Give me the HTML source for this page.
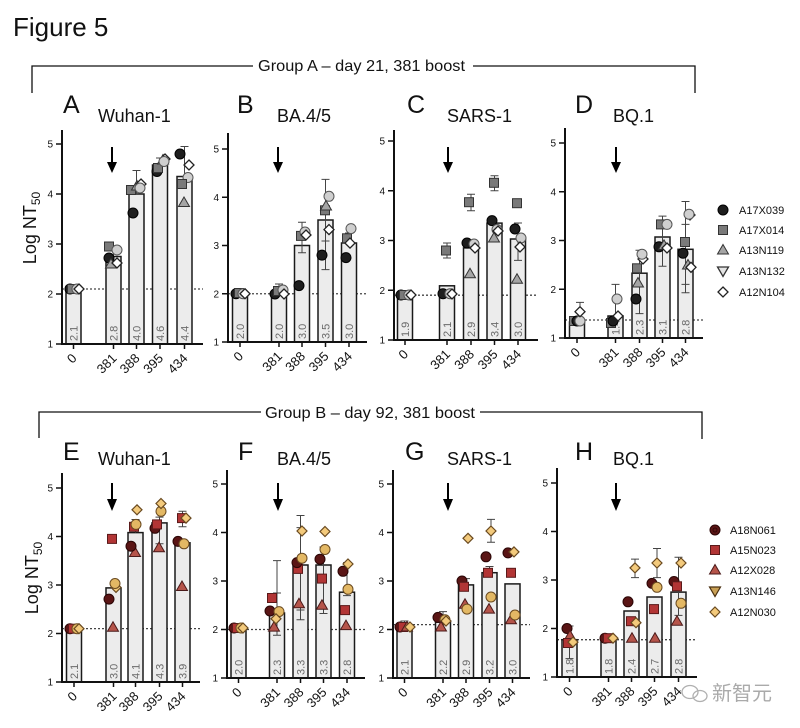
<!DOCTYPE html>
<html><head><meta charset="utf-8"><style>
html,body{margin:0;padding:0;background:#fff}
svg{display:block}
text{font-family:"Liberation Sans","Noto Sans CJK SC",sans-serif;fill:#111}
.bar{fill:#ececec;stroke:#1a1a1a;stroke-width:1.5}
.ax{stroke:#111;stroke-width:2;fill:none}
.tk{stroke:#111;stroke-width:1.5;fill:none}
.dl{stroke:#444;stroke-width:1.3;stroke-dasharray:2 2}
.eb{stroke:#444;stroke-width:1;fill:none}
.yl{font-size:10px;text-anchor:end}
.xl{font-size:13px;text-anchor:end}
.vl{font-size:11px;fill:#6a6a6a}
.lt{font-size:11px}
.pl{font-size:25px}
.pt{font-size:18px}
.br{stroke:#111;stroke-width:1.3;fill:none}
</style></head><body>
<svg width="800" height="728" viewBox="0 0 800 728" xmlns="http://www.w3.org/2000/svg">
<defs>
<g id="a1"><circle r="5" fill="#1e1e1e" stroke="#000" stroke-width="1"/></g>
<g id="a2"><rect x="-4.5" y="-4.5" width="9" height="9" fill="#7a7a7a" stroke="#333"/></g>
<g id="a3"><polygon points="0,-5.5 5.5,4 -5.5,4" fill="#a5a5a5" stroke="#333"/></g>
<g id="a4"><circle r="5" fill="#cfcfcf" stroke="#555"/></g>
<g id="a4l"><polygon points="-5.5,-4 5.5,-4 0,5.5" fill="#e4e4e4" stroke="#333" stroke-width="1.3"/></g>
<g id="a5"><polygon points="0,-5 5,0 0,5 -5,0" fill="#fff" stroke="#222" stroke-width="1.3"/></g>
<g id="b1"><circle r="5" fill="#5a1515" stroke="#2a0505"/></g>
<g id="b2"><rect x="-4.5" y="-4.5" width="9" height="9" fill="#b23535" stroke="#5a1a1a"/></g>
<g id="b3"><polygon points="0,-5.5 5.5,4 -5.5,4" fill="#b5544a" stroke="#4a1a1a"/></g>
<g id="b4"><circle r="5" fill="#e3b864" stroke="#6a4a20"/></g>
<g id="b4l"><polygon points="-5.5,-4 5.5,-4 0,5.5" fill="#c9a055" stroke="#4a3010" stroke-width="1.2"/></g>
<g id="b5"><polygon points="0,-5 5,0 0,5 -5,0" fill="#f3ca7c" stroke="#6a4a20" stroke-width="1.2"/></g>
</defs>
<rect width="800" height="728" fill="#fff"/>

<text x="13" y="36" style="font-size:26px">Figure 5</text>

<!-- Brackets -->
<path class="br" d="M32 93V66H253 M473 66H695V93"/>
<text x="258" y="71" style="font-size:16px" textLength="207" lengthAdjust="spacingAndGlyphs">Group A – day 21, 381 boost</text>
<path class="br" d="M39 438V412H261 M480 412H702V439"/>
<text x="265" y="418" style="font-size:16px" textLength="210" lengthAdjust="spacingAndGlyphs">Group B – day 92, 381 boost</text>

<!-- Panel titles -->
<text class="pl" x="63" y="113">A</text><text class="pt" x="98" y="122">Wuhan-1</text>
<text class="pl" x="237" y="113">B</text><text class="pt" x="277" y="122">BA.4/5</text>
<text class="pl" x="407" y="113">C</text><text class="pt" x="447" y="122">SARS-1</text>
<text class="pl" x="575" y="113">D</text><text class="pt" x="613" y="122">BQ.1</text>
<text class="pl" x="63" y="460">E</text><text class="pt" x="98" y="465">Wuhan-1</text>
<text class="pl" x="238" y="460">F</text><text class="pt" x="277" y="465">BA.4/5</text>
<text class="pl" x="405" y="460">G</text><text class="pt" x="447" y="465">SARS-1</text>
<text class="pl" x="575" y="460">H</text><text class="pt" x="613" y="465">BQ.1</text>

<!-- Y axis labels -->
<text transform="rotate(-90 36 228)" x="36" y="228" style="font-size:18px" text-anchor="middle">Log NT<tspan dy="4" font-size="12">50</tspan></text>
<text transform="rotate(-90 38 578)" x="38" y="578" style="font-size:18px" text-anchor="middle">Log NT<tspan dy="4" font-size="12">50</tspan></text>

<!-- Arrows -->
<g stroke="#000" stroke-width="2">
<line x1="112" y1="147" x2="112" y2="165"/><line x1="278" y1="147" x2="278" y2="165"/>
<line x1="448" y1="147" x2="448" y2="165"/><line x1="616" y1="147" x2="616" y2="165"/>
<line x1="112" y1="483" x2="112" y2="502"/><line x1="278" y1="483" x2="278" y2="502"/>
<line x1="448" y1="483" x2="448" y2="502"/><line x1="616" y1="483" x2="616" y2="502"/>
</g>
<g fill="#000">
<polygon points="107,162 117,162 112,173"/><polygon points="273,162 283,162 278,173"/>
<polygon points="443,162 453,162 448,173"/><polygon points="611,162 621,162 616,173"/>
<polygon points="107,499 117,499 112,511"/><polygon points="273,499 283,499 278,511"/>
<polygon points="443,499 453,499 448,511"/><polygon points="611,499 621,499 616,511"/>
</g>

<!-- ============ Panel A ============ -->
<line class="dl" x1="62" y1="289" x2="203" y2="289"/>
<rect class="bar" x="66" y="286.5" width="15" height="57.5"/>
<rect class="bar" x="106" y="256.5" width="15" height="87.5"/>
<rect class="bar" x="129" y="194" width="15" height="150"/>
<rect class="bar" x="152.5" y="165" width="15" height="179"/>
<rect class="bar" x="177" y="176.5" width="15" height="167.5"/>
<text class="vl" transform="rotate(-90 77.5 341)" x="77.5" y="341">2.1</text>
<text class="vl" transform="rotate(-90 117.5 341)" x="117.5" y="341">2.8</text>
<text class="vl" transform="rotate(-90 140.5 341)" x="140.5" y="341">4.0</text>
<text class="vl" transform="rotate(-90 164 341)" x="164" y="341">4.6</text>
<text class="vl" transform="rotate(-90 188.5 341)" x="188.5" y="341">4.4</text>
<path class="eb" d="M136.5 194V170.5M132.5 170.5h8 M184.5 176.5V146.5M180.5 146.5h8 M160 165V158M156 158h8 M113.5 256.5V248M109.5 248h8"/>
<use href="#a1" x="70" y="289"/><use href="#a2" x="72" y="289"/><use href="#a4" x="77" y="289"/><use href="#a5" x="79" y="289"/>
<use href="#a2" x="109" y="246.5"/><use href="#a4" x="117" y="250"/><use href="#a1" x="109" y="258"/><use href="#a3" x="111" y="264"/><use href="#a5" x="117" y="263"/>
<use href="#a1" x="133" y="213"/><use href="#a2" x="131" y="190"/><use href="#a3" x="137" y="186"/><use href="#a5" x="141" y="184"/><use href="#a4" x="140" y="188"/>
<use href="#a1" x="157" y="171.5"/><use href="#a2" x="158" y="168"/><use href="#a3" x="163" y="160"/><use href="#a5" x="165" y="159"/><use href="#a4" x="164" y="161.5"/>
<use href="#a1" x="180" y="154"/><use href="#a5" x="189" y="165"/><use href="#a4" x="188" y="177.5"/><use href="#a2" x="182" y="184"/><use href="#a3" x="184" y="202.5"/>
<path class="ax" d="M62 130V345 M61 344H203"/>
<path class="tk" d="M56 344H62 M56 294H62 M56 244H62 M56 194H62 M56 144H62 M73.5 344v5 M113.5 344v5 M136.5 344v5 M160 344v5 M184.5 344v5"/>
<text class="yl" x="53" y="347.5">1</text><text class="yl" x="53" y="297.5">2</text><text class="yl" x="53" y="247.5">3</text><text class="yl" x="53" y="197.5">4</text><text class="yl" x="53" y="147.5">5</text>
<text class="xl" transform="rotate(-45 77.5 359)" x="77.5" y="359">0</text>
<text class="xl" transform="rotate(-45 117.5 359)" x="117.5" y="359">381</text>
<text class="xl" transform="rotate(-45 140.5 359)" x="140.5" y="359">388</text>
<text class="xl" transform="rotate(-45 164 359)" x="164" y="359">395</text>
<text class="xl" transform="rotate(-45 188.5 359)" x="188.5" y="359">434</text>

<!-- ============ Panel B ============ -->
<line class="dl" x1="228" y1="293.75" x2="367" y2="293.75"/>
<rect class="bar" x="232.5" y="293.75" width="15" height="48.25"/>
<rect class="bar" x="271.5" y="292.8" width="15" height="49.2"/>
<rect class="bar" x="294.5" y="245.5" width="15" height="96.5"/>
<rect class="bar" x="318" y="220" width="15" height="122"/>
<rect class="bar" x="341.5" y="243" width="15" height="99"/>
<text class="vl" transform="rotate(-90 244 339)" x="244" y="339">2.0</text>
<text class="vl" transform="rotate(-90 283 339)" x="283" y="339">2.0</text>
<text class="vl" transform="rotate(-90 306 339)" x="306" y="339">3.0</text>
<text class="vl" transform="rotate(-90 329.5 339)" x="329.5" y="339">3.5</text>
<text class="vl" transform="rotate(-90 353 339)" x="353" y="339">3.0</text>
<path class="eb" d="M279 292.8V284 M275 284h8 M302 252.7V222.3 M298 222.3h8 M298 252.7h8 M325.5 269.6V179.4 M321.5 179.4h8 M321.5 269.6h8 M321.5 241h8 M349 243V233 M345 233h8"/>
<use href="#a1" x="236" y="293.75"/><use href="#a2" x="239" y="293"/><use href="#a4" x="243" y="293.75"/><use href="#a5" x="245" y="293.75"/>
<use href="#a1" x="275" y="294"/><use href="#a2" x="278" y="291"/><use href="#a4" x="283" y="290"/><use href="#a5" x="284" y="294"/>
<use href="#a1" x="299" y="285.6"/><use href="#a2" x="301" y="235.9"/><use href="#a4" x="305" y="232"/><use href="#a5" x="306" y="235"/>
<use href="#a1" x="322" y="255.15"/><use href="#a2" x="325" y="210.3"/><use href="#a3" x="326" y="206"/><use href="#a4" x="329" y="196.3"/><use href="#a5" x="329" y="229.6"/>
<use href="#a1" x="346" y="257.6"/><use href="#a2" x="347" y="238.3"/><use href="#a4" x="351" y="228.6"/><use href="#a5" x="350" y="243.1"/>
<path class="ax" d="M228 133V343 M227 342H367"/>
<path class="tk" d="M222 342H228 M222 293.75H228 M222 245.5H228 M222 197.25H228 M222 149H228 M240 342v5 M279 342v5 M302 342v5 M325.5 342v5 M349 342v5"/>
<text class="yl" x="219" y="345.5">1</text><text class="yl" x="219" y="297.25">2</text><text class="yl" x="219" y="249">3</text><text class="yl" x="219" y="200.75">4</text><text class="yl" x="219" y="152.5">5</text>
<text class="xl" transform="rotate(-45 244 357)" x="244" y="357">0</text>
<text class="xl" transform="rotate(-45 283 357)" x="283" y="357">381</text>
<text class="xl" transform="rotate(-45 306 357)" x="306" y="357">388</text>
<text class="xl" transform="rotate(-45 329.5 357)" x="329.5" y="357">395</text>
<text class="xl" transform="rotate(-45 353 357)" x="353" y="357">434</text>

<!-- ============ Panel C ============ -->
<line class="dl" x1="394" y1="295.2" x2="538" y2="295.2"/>
<rect class="bar" x="397.5" y="294.3" width="15" height="45.7"/>
<rect class="bar" x="439.5" y="285.8" width="15" height="54.2"/>
<rect class="bar" x="463.5" y="247.9" width="15" height="92.1"/>
<rect class="bar" x="487" y="223.1" width="15" height="116.9"/>
<rect class="bar" x="510.5" y="239" width="15" height="101"/>
<text class="vl" transform="rotate(-90 409 337)" x="409" y="337">1.9</text>
<text class="vl" transform="rotate(-90 451 337)" x="451" y="337">2.1</text>
<text class="vl" transform="rotate(-90 475 337)" x="475" y="337">2.9</text>
<text class="vl" transform="rotate(-90 498.5 337)" x="498.5" y="337">3.4</text>
<text class="vl" transform="rotate(-90 522 337)" x="522" y="337">3.0</text>
<path class="eb" d="M447 258V243 M443 258h8 M443 243h8 M471 210.7V194.2 M467 210.7h8 M467 194.2h8 M494.5 190.75V175.8 M490.5 190.75h8 M490.5 175.8h8 M518 260.4V223 M514 260.4h8 M514 223h8 M471 247.9V242 M467 242h8"/>
<use href="#a1" x="401" y="295"/><use href="#a2" x="404" y="295"/><use href="#a4" x="409" y="295"/><use href="#a5" x="411" y="295"/>
<use href="#a2" x="446" y="250.5"/><use href="#a1" x="443" y="293.7"/><use href="#a4" x="450" y="293.7"/><use href="#a5" x="452" y="294"/>
<use href="#a2" x="469" y="202.2"/><use href="#a1" x="467" y="243"/><use href="#a4" x="474" y="244"/><use href="#a5" x="475" y="248"/><use href="#a3" x="470" y="273.8"/>
<use href="#a2" x="494" y="182.8"/><use href="#a1" x="492" y="220.6"/><use href="#a4" x="497" y="229.5"/><use href="#a3" x="494" y="238"/><use href="#a5" x="498" y="231"/>
<use href="#a2" x="517" y="203.2"/><use href="#a1" x="515" y="229"/><use href="#a4" x="521" y="238"/><use href="#a5" x="520" y="247"/><use href="#a3" x="517" y="279.3"/>
<path class="ax" d="M394 130V341 M393 340H538"/>
<path class="tk" d="M388 340H394 M388 290.25H394 M388 240.5H394 M388 190.75H394 M388 141H394 M405 340v5 M447 340v5 M471 340v5 M494.5 340v5 M518 340v5"/>
<text class="yl" x="385" y="343.5">1</text><text class="yl" x="385" y="293.75">2</text><text class="yl" x="385" y="244">3</text><text class="yl" x="385" y="194.25">4</text><text class="yl" x="385" y="144.5">5</text>
<text class="xl" transform="rotate(-45 409 355)" x="409" y="355">0</text>
<text class="xl" transform="rotate(-45 451 355)" x="451" y="355">381</text>
<text class="xl" transform="rotate(-45 475 355)" x="475" y="355">388</text>
<text class="xl" transform="rotate(-45 498.5 355)" x="498.5" y="355">395</text>
<text class="xl" transform="rotate(-45 522 355)" x="522" y="355">434</text>

<!-- ============ Panel D ============ -->
<line class="dl" x1="565" y1="320" x2="703" y2="320"/>
<rect class="bar" x="569.5" y="322" width="15" height="16"/>
<rect class="bar" x="608" y="316" width="15" height="22"/>
<rect class="bar" x="632" y="273.2" width="15" height="64.8"/>
<rect class="bar" x="655" y="237" width="15" height="101"/>
<rect class="bar" x="678" y="249.3" width="15" height="88.7"/>
<text class="vl" transform="rotate(-90 619.5 335)" x="619.5" y="335">1.4</text>
<text class="vl" transform="rotate(-90 643.5 335)" x="643.5" y="335">2.3</text>
<text class="vl" transform="rotate(-90 666.5 335)" x="666.5" y="335">3.1</text>
<text class="vl" transform="rotate(-90 689.5 335)" x="689.5" y="335">2.8</text>
<path class="eb" d="M580 311.7V302.4 M576 302.4h8 M615.5 316V284.4 M611.5 284.4h8 M639.5 313.6V250.3 M635.5 250.3h8 M635.5 313.6h8 M662.5 266.3V216.1 M658.5 216.1h8 M658.5 266.3h8 M685.5 292.7V201.5 M681.5 201.5h8 M681.5 292.7h8 M681.5 224.4h8 M681.5 284.4h8"/>
<use href="#a2" x="574" y="321"/><use href="#a1" x="577" y="321"/><use href="#a4" x="580" y="321"/><use href="#a5" x="580" y="311.7"/>
<use href="#a2" x="611" y="323"/><use href="#a1" x="613" y="321"/><use href="#a5" x="618" y="316"/><use href="#a4" x="617" y="299"/>
<use href="#a1" x="636" y="299"/><use href="#a3" x="638" y="283"/><use href="#a2" x="637" y="268.3"/><use href="#a5" x="643" y="259"/><use href="#a4" x="642" y="254.2"/>
<use href="#a1" x="659" y="246.8"/><use href="#a3" x="664" y="245.4"/><use href="#a5" x="667" y="248"/><use href="#a2" x="661" y="224.4"/><use href="#a4" x="667" y="224.4"/>
<use href="#a3" x="688" y="265"/><use href="#a5" x="691" y="267.3"/><use href="#a1" x="683" y="253.2"/><use href="#a2" x="685" y="242"/><use href="#a5" x="690" y="215"/><use href="#a4" x="689" y="214.2"/>
<path class="ax" d="M565 128V339 M564 338H703"/>
<path class="tk" d="M559 338H565 M559 289.25H565 M559 240.5H565 M559 191.75H565 M559 143H565 M577 338v5 M615.5 338v5 M639.5 338v5 M662.5 338v5 M685.5 338v5"/>
<text class="yl" x="556" y="341.5">1</text><text class="yl" x="556" y="292.75">2</text><text class="yl" x="556" y="244">3</text><text class="yl" x="556" y="195.25">4</text><text class="yl" x="556" y="146.5">5</text>
<text class="xl" transform="rotate(-45 581 353)" x="581" y="353">0</text>
<text class="xl" transform="rotate(-45 619.5 353)" x="619.5" y="353">381</text>
<text class="xl" transform="rotate(-45 643.5 353)" x="643.5" y="353">388</text>
<text class="xl" transform="rotate(-45 666.5 353)" x="666.5" y="353">395</text>
<text class="xl" transform="rotate(-45 689.5 353)" x="689.5" y="353">434</text>

<!-- Legend A -->
<use href="#a1" x="723" y="210"/><use href="#a2" x="723" y="230"/><use href="#a3" x="723" y="250"/><use href="#a4l" x="723" y="271"/><use href="#a5" x="723" y="292"/>
<text class="lt" x="739" y="214">A17X039</text>
<text class="lt" x="739" y="234">A17X014</text>
<text class="lt" x="739" y="254">A13N119</text>
<text class="lt" x="739" y="275">A13N132</text>
<text class="lt" x="739" y="296">A12N104</text>

<!-- ============ Panel E ============ -->
<line class="dl" x1="62" y1="628.65" x2="200" y2="628.65"/>
<rect class="bar" x="66.5" y="627.7" width="15" height="54.3"/>
<rect class="bar" x="106" y="587.9" width="15" height="94.1"/>
<rect class="bar" x="128" y="532.6" width="15" height="149.4"/>
<rect class="bar" x="152" y="522.9" width="15" height="159.1"/>
<rect class="bar" x="175" y="542.8" width="15" height="139.2"/>
<text class="vl" transform="rotate(-90 78 679)" x="78" y="679">2.1</text>
<text class="vl" transform="rotate(-90 117.5 679)" x="117.5" y="679">3.0</text>
<text class="vl" transform="rotate(-90 139.5 679)" x="139.5" y="679">4.1</text>
<text class="vl" transform="rotate(-90 163.5 679)" x="163.5" y="679">4.3</text>
<text class="vl" transform="rotate(-90 186.5 679)" x="186.5" y="679">3.9</text>
<path class="eb" d="M135.5 532.6V519.5 M131.5 519.5h8 M159.5 543.8V517.1 M155.5 517.1h8 M155.5 543.8h8 M182.5 526.8V511.3 M178.5 511.3h8 M178.5 526.8h8"/>
<use href="#b1" x="70" y="628.7"/><use href="#b2" x="73" y="628.7"/><use href="#b4" x="77" y="628.7"/><use href="#b5" x="79" y="628.7"/>
<use href="#b3" x="113" y="627.2"/><use href="#b1" x="109" y="599.1"/><use href="#b5" x="116" y="587.4"/><use href="#b4" x="115" y="583.5"/><use href="#b2" x="112" y="538.9"/>
<use href="#b3" x="135" y="552.5"/><use href="#b1" x="131" y="546.2"/><use href="#b2" x="134" y="526.8"/><use href="#b4" x="136" y="524.4"/><use href="#b5" x="137" y="509.8"/>
<use href="#b3" x="159" y="547.7"/><use href="#b1" x="155" y="528.3"/><use href="#b2" x="157" y="524.4"/><use href="#b4" x="161" y="511.3"/><use href="#b5" x="161" y="503.5"/>
<use href="#b3" x="182" y="586.5"/><use href="#b1" x="178" y="541.4"/><use href="#b4" x="184" y="543.8"/><use href="#b2" x="182" y="518.1"/><use href="#b5" x="186" y="518.1"/>
<path class="ax" d="M62 473V683 M61 682H200"/>
<path class="tk" d="M56 682H62 M56 633.5H62 M56 585H62 M56 536.5H62 M56 488H62 M74 682v5 M113.5 682v5 M135.5 682v5 M159.5 682v5 M182.5 682v5"/>
<text class="yl" x="53" y="685.5">1</text><text class="yl" x="53" y="637">2</text><text class="yl" x="53" y="588.5">3</text><text class="yl" x="53" y="540">4</text><text class="yl" x="53" y="491.5">5</text>
<text class="xl" transform="rotate(-45 78 697)" x="78" y="697">0</text>
<text class="xl" transform="rotate(-45 117.5 697)" x="117.5" y="697">381</text>
<text class="xl" transform="rotate(-45 139.5 697)" x="139.5" y="697">388</text>
<text class="xl" transform="rotate(-45 163.5 697)" x="163.5" y="697">395</text>
<text class="xl" transform="rotate(-45 186.5 697)" x="186.5" y="697">434</text>

<!-- ============ Panel F ============ -->
<line class="dl" x1="227" y1="629.5" x2="365" y2="629.5"/>
<rect class="bar" x="231" y="628" width="15" height="50"/>
<rect class="bar" x="269.5" y="613" width="15" height="65"/>
<rect class="bar" x="293" y="565" width="15" height="113"/>
<rect class="bar" x="316" y="565" width="15" height="113"/>
<rect class="bar" x="339.5" y="592.2" width="15" height="85.8"/>
<text class="vl" transform="rotate(-90 242.5 675)" x="242.5" y="675">2.0</text>
<text class="vl" transform="rotate(-90 281 675)" x="281" y="675">2.3</text>
<text class="vl" transform="rotate(-90 304.5 675)" x="304.5" y="675">3.3</text>
<text class="vl" transform="rotate(-90 327.5 675)" x="327.5" y="675">3.3</text>
<text class="vl" transform="rotate(-90 351 675)" x="351" y="675">2.8</text>
<path class="eb" d="M277 635.3V560.6 M273 560.6h8 M273 635.3h8 M273 593h8 M300.5 619.8V515.5 M296.5 515.5h8 M296.5 619.8h8 M296.5 610h8 M296.5 527.6h8 M323.5 613.5V547 M319.5 547h8 M319.5 613.5h8 M347 595.6V562.6 M343 562.6h8 M343 595.6h8"/>
<use href="#b1" x="234" y="628"/><use href="#b2" x="237" y="628"/><use href="#b4" x="241" y="628"/><use href="#b5" x="243" y="628"/>
<use href="#b3" x="274" y="627.1"/><use href="#b2" x="272" y="598"/><use href="#b1" x="270" y="611"/><use href="#b4" x="279" y="611.6"/><use href="#b5" x="276" y="618.8"/>
<use href="#b3" x="299" y="603.8"/><use href="#b2" x="298" y="568.9"/><use href="#b1" x="297" y="562.6"/><use href="#b4" x="302" y="558.2"/><use href="#b5" x="302" y="531"/>
<use href="#b3" x="322" y="605.3"/><use href="#b2" x="322" y="578.6"/><use href="#b1" x="320" y="559.2"/><use href="#b4" x="325" y="549.5"/><use href="#b5" x="325" y="531.5"/>
<use href="#b3" x="346" y="625.6"/><use href="#b2" x="345" y="610.1"/><use href="#b4" x="348" y="589.3"/><use href="#b1" x="343" y="571.3"/><use href="#b5" x="348" y="564"/>
<path class="ax" d="M227 470V679 M226 678H365"/>
<path class="tk" d="M221 678H227 M221 629.5H227 M221 581H227 M221 532.5H227 M221 484H227 M238.5 678v5 M277 678v5 M300.5 678v5 M323.5 678v5 M347 678v5"/>
<text class="yl" x="218" y="681.5">1</text><text class="yl" x="218" y="633">2</text><text class="yl" x="218" y="584.5">3</text><text class="yl" x="218" y="536">4</text><text class="yl" x="218" y="487.5">5</text>
<text class="xl" transform="rotate(-45 242.5 693)" x="242.5" y="693">0</text>
<text class="xl" transform="rotate(-45 281 693)" x="281" y="693">381</text>
<text class="xl" transform="rotate(-45 304.5 693)" x="304.5" y="693">388</text>
<text class="xl" transform="rotate(-45 327.5 693)" x="327.5" y="693">395</text>
<text class="xl" transform="rotate(-45 351 693)" x="351" y="693">434</text>

<!-- ============ Panel G ============ -->
<line class="dl" x1="393" y1="624.65" x2="530" y2="624.65"/>
<rect class="bar" x="397" y="627" width="15" height="51"/>
<rect class="bar" x="435.5" y="622.2" width="15" height="55.8"/>
<rect class="bar" x="458.5" y="584.9" width="15" height="93.1"/>
<rect class="bar" x="482" y="572.7" width="15" height="105.3"/>
<rect class="bar" x="505" y="583.9" width="15" height="94.1"/>
<text class="vl" transform="rotate(-90 408.5 675)" x="408.5" y="675">2.1</text>
<text class="vl" transform="rotate(-90 447 675)" x="447" y="675">2.2</text>
<text class="vl" transform="rotate(-90 470 675)" x="470" y="675">2.9</text>
<text class="vl" transform="rotate(-90 493.5 675)" x="493.5" y="675">3.2</text>
<text class="vl" transform="rotate(-90 516.5 675)" x="516.5" y="675">3.0</text>
<path class="eb" d="M443 622.2V611.6 M439 611.6h8 M466 584.9V578.6 M462 578.6h8 M491 542.2V519.4 M487 519.4h8 M487 542.2h8 M489.5 572.7V566.5 M485.5 566.5h8 M404.5 627V621 M400.5 621h8"/>
<use href="#b1" x="400" y="627"/><use href="#b2" x="403" y="627"/><use href="#b3" x="407" y="627"/><use href="#b5" x="410" y="627"/>
<use href="#b1" x="438" y="617.4"/><use href="#b4" x="445" y="619.8"/><use href="#b5" x="446" y="621"/><use href="#b3" x="441" y="627"/>
<use href="#b1" x="462" y="581"/><use href="#b2" x="464" y="586.8"/><use href="#b3" x="465" y="604.3"/><use href="#b4" x="467" y="609.1"/><use href="#b5" x="468" y="538.3"/>
<use href="#b1" x="486" y="556.8"/><use href="#b2" x="488" y="572.8"/><use href="#b4" x="491" y="597"/><use href="#b3" x="489" y="609.1"/><use href="#b5" x="491" y="531"/>
<use href="#b1" x="508" y="552.9"/><use href="#b5" x="514" y="551.9"/><use href="#b2" x="511" y="572.8"/><use href="#b3" x="511" y="619.8"/><use href="#b4" x="515" y="615"/>
<path class="ax" d="M393 470V679 M392 678H530"/>
<path class="tk" d="M387 678H393 M387 629.5H393 M387 581H393 M387 532.5H393 M387 484H393 M404.5 678v5 M443 678v5 M466 678v5 M489.5 678v5 M512.5 678v5"/>
<text class="yl" x="384" y="681.5">1</text><text class="yl" x="384" y="633">2</text><text class="yl" x="384" y="584.5">3</text><text class="yl" x="384" y="536">4</text><text class="yl" x="384" y="487.5">5</text>
<text class="xl" transform="rotate(-45 408.5 693)" x="408.5" y="693">0</text>
<text class="xl" transform="rotate(-45 447 693)" x="447" y="693">381</text>
<text class="xl" transform="rotate(-45 470 693)" x="470" y="693">388</text>
<text class="xl" transform="rotate(-45 493.5 693)" x="493.5" y="693">395</text>
<text class="xl" transform="rotate(-45 516.5 693)" x="516.5" y="693">434</text>

<!-- ============ Panel H ============ -->
<line class="dl" x1="557" y1="639.7" x2="697" y2="639.7"/>
<rect class="bar" x="562" y="639.7" width="15" height="37.3"/>
<rect class="bar" x="601" y="638.2" width="15" height="38.8"/>
<rect class="bar" x="624" y="611" width="15" height="66"/>
<rect class="bar" x="647" y="597" width="15" height="80"/>
<rect class="bar" x="671" y="592.1" width="15" height="84.9"/>
<text class="vl" transform="rotate(-90 573.5 674)" x="573.5" y="674">1.8</text>
<text class="vl" transform="rotate(-90 612.5 674)" x="612.5" y="674">1.8</text>
<text class="vl" transform="rotate(-90 635.5 674)" x="635.5" y="674">2.4</text>
<text class="vl" transform="rotate(-90 658.5 674)" x="658.5" y="674">2.7</text>
<text class="vl" transform="rotate(-90 682.5 674)" x="682.5" y="674">2.8</text>
<path class="eb" d="M569.5 658.6V626 M565.5 626h8 M565.5 658.6h8 M635 577.6V559.1 M631 559.1h8 M631 577.6h8 M657 577.6V548.5 M653 548.5h8 M653 577.6h8 M678.5 615.4V557.2 M674.5 557.2h8 M674.5 615.4h8"/>
<use href="#b1" x="567" y="628.5"/><use href="#b3" x="570" y="635.8"/><use href="#b2" x="568" y="643"/><use href="#b5" x="573" y="642.1"/>
<use href="#b1" x="605" y="638.2"/><use href="#b2" x="608" y="638.2"/><use href="#b5" x="613" y="638.2"/>
<use href="#b1" x="628" y="601.8"/><use href="#b3" x="632" y="638.2"/><use href="#b2" x="631" y="621.2"/><use href="#b5" x="636" y="622.7"/><use href="#b5" x="635" y="567.9"/>
<use href="#b3" x="655" y="638.2"/><use href="#b2" x="654" y="609.1"/><use href="#b1" x="652" y="583.4"/><use href="#b4" x="657" y="587.3"/><use href="#b5" x="657" y="563"/>
<use href="#b3" x="677" y="621.2"/><use href="#b4" x="681" y="603.3"/><use href="#b1" x="674" y="581.5"/><use href="#b2" x="677" y="586.3"/><use href="#b5" x="681" y="563"/>
<path class="ax" d="M557 468V678 M556 677H697"/>
<path class="tk" d="M551 677H557 M551 628.5H557 M551 580H557 M551 531.5H557 M551 483H557 M569.5 677v5 M608.5 677v5 M631.5 677v5 M654.5 677v5 M678.5 677v5"/>
<text class="yl" x="548" y="680.5">1</text><text class="yl" x="548" y="632">2</text><text class="yl" x="548" y="583.5">3</text><text class="yl" x="548" y="535">4</text><text class="yl" x="548" y="486.5">5</text>
<text class="xl" transform="rotate(-45 573.5 692)" x="573.5" y="692">0</text>
<text class="xl" transform="rotate(-45 612.5 692)" x="612.5" y="692">381</text>
<text class="xl" transform="rotate(-45 635.5 692)" x="635.5" y="692">388</text>
<text class="xl" transform="rotate(-45 658.5 692)" x="658.5" y="692">395</text>
<text class="xl" transform="rotate(-45 682.5 692)" x="682.5" y="692">434</text>

<!-- Legend B -->
<use href="#b1" x="715" y="530"/><circle cx="715" cy="530" r="2" fill="none" stroke="#2a0505" stroke-width="0.8"/>
<use href="#b2" x="715" y="550"/><use href="#b3" x="715" y="570"/><use href="#b4l" x="715" y="591"/><use href="#b5" x="715" y="612"/>
<text class="lt" x="730" y="534">A18N061</text>
<text class="lt" x="730" y="554">A15N023</text>
<text class="lt" x="730" y="574">A12X028</text>
<text class="lt" x="730" y="595">A13N146</text>
<text class="lt" x="730" y="616">A12N030</text>

<!-- Watermark -->
<g fill="none" stroke="#b0b0b0" stroke-width="1.3">
<ellipse cx="690" cy="692" rx="8" ry="6.5"/>
<ellipse cx="700" cy="696" rx="7" ry="5.5"/>
</g>
<text x="712" y="700" style="font-size:20px;fill:#aaa;font-family:'Liberation Sans','Noto Sans CJK SC',sans-serif">新智元</text>
</svg>
</body></html>
